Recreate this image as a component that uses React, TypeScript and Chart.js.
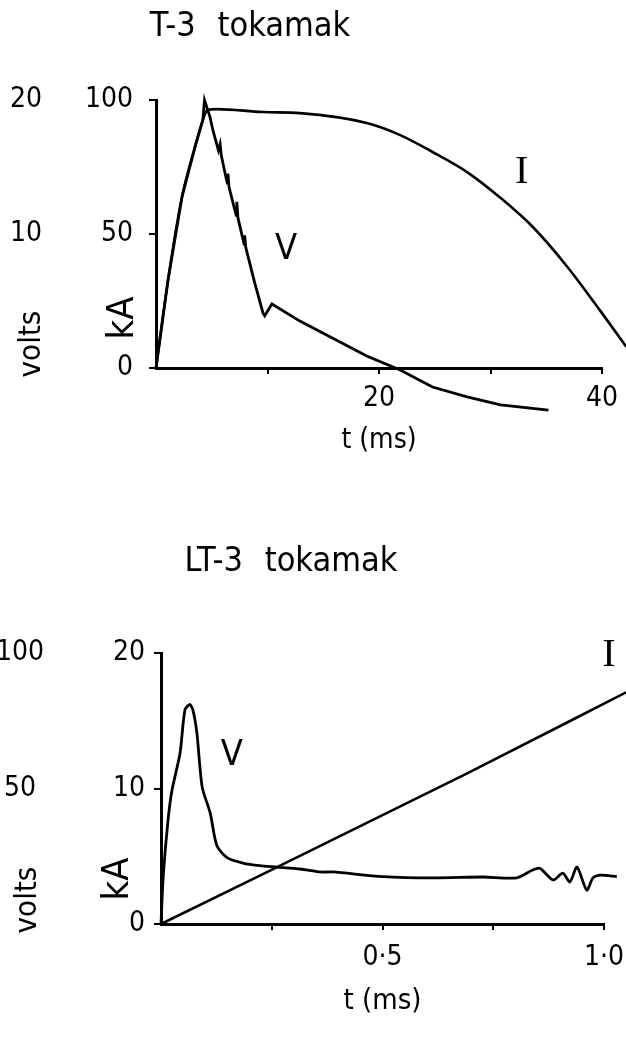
import React, { useEffect, useRef } from 'react';
import { Chart, registerables } from 'chart.js';

Chart.register(...registerables);

// ---------- T-3 tokamak (top panel) ----------
const t3CurrentTime = [0, 1.08, 2.33, 3.5, 4.2, 4.6, 5.47, 9.6, 12.9, 18.9, 21.9, 24.8, 27.9, 30.8, 33.8, 36.9, 39.8, 42.2];
const t3CurrentKA = [0, 32.8, 63.8, 82.5, 92.5, 96.3, 96.6, 95.5, 95.1, 91.4, 86.9, 80.6, 73.1, 63.8, 52.6, 37.7, 21.6, 7.8];
const t3VoltageTime = [0, 1.08, 2.33, 3.5, 4.2, 4.35, 4.84, 5.1, 5.6, 5.75, 5.85, 6.3, 6.4, 6.45, 6.55, 7.1, 7.2, 7.25, 7.35, 7.9, 7.95, 8.05, 8.8, 9.6, 9.75, 10.4, 12.9, 15.9, 18.9, 21.9, 24.8, 27.9, 30.9, 35.2];
const t3VoltageVolts = [0, 6.56, 12.76, 16.5, 18.5, 20, 18.74, 17.76, 16.24, 16.7, 15.9, 14.12, 13.8, 14.5, 13.5, 11.68, 11.4, 12.4, 11.2, 9.24, 9.9, 9.0, 6.52, 4.1, 3.9, 4.78, 3.5, 2.2, 0.9, -0.15, -1.42, -2.16, -2.76, -3.14];
const t3TimeTicks = [10, 20, 30, 40];
const t3TimeTickLabels = ['', '20', '', '40'];
const t3KATicks = [0, 50, 100];
const t3KATickLabels = ['0', '50', '100'];
const t3VoltTicks = [10, 20];
const t3VoltTickLabels = ['10', '20'];

// ---------- LT-3 tokamak (bottom panel) ----------
const lt3CurrentTime = [0, 0.69, 1.05];
const lt3CurrentKA = [0, 11.1, 17.1];
const lt3VoltageTime = [0, 0.005, 0.016, 0.025, 0.043, 0.054, 0.065, 0.072, 0.081, 0.093, 0.111, 0.126, 0.149, 0.185, 0.223, 0.261, 0.314, 0.359, 0.388, 0.5, 0.614, 0.727, 0.803, 0.84, 0.856, 0.885, 0.907, 0.923, 0.939, 0.961, 0.975, 0.991, 1.029];
const lt3VoltageVolts = [0, 17.5, 38.5, 49.5, 63, 79, 81, 79, 70.5, 50.5, 41, 29, 24.5, 22.5, 21.5, 21, 20.3, 19.2, 19.2, 17.5, 17, 17.35, 17, 20, 20.5, 16.25, 18.8, 15.5, 21, 12.5, 17, 18, 17.5];
const lt3TimeTicks = [0.25, 0.5, 0.75, 1.0];
const lt3TimeTickLabels = ['', '0·5', '', '1·0'];
const lt3KATicks = [0, 10, 20];
const lt3KATickLabels = ['0', '10', '20'];
const lt3VoltTicks = [50, 100];
const lt3VoltTickLabels = ['50', '100'];

const FONT_NUM = "'DejaVu Sans Condensed', 'DejaVu Sans', sans-serif";
const FONT_TXT = "'DejaVu Sans Condensed', 'DejaVu Sans', sans-serif";
const FONT_SERIF = "'Liberation Serif', 'DejaVu Serif', serif";
const TICK_SIZE = 28;

type TextItem = {
  text: string;
  font: string;
  x?: number;
  y?: number;
  at?: [number, number];
  axis?: string;
  rotate?: boolean;
  wordSpacing?: string;
};

const panelTextPlugin = {
  id: 'panelText',
  afterDraw(chart: any, _args: any, opts: any) {
    const ctx: CanvasRenderingContext2D = chart.ctx;
    const items: TextItem[] = opts.items || [];
    for (const item of items) {
      ctx.save();
      ctx.fillStyle = '#000';
      ctx.font = item.font;
      ctx.textAlign = 'center';
      ctx.textBaseline = 'middle';
      if (item.wordSpacing) (ctx as any).wordSpacing = item.wordSpacing;
      let x = item.x ?? 0;
      let y = item.y ?? 0;
      if (item.at && item.axis) {
        x = chart.scales.x.getPixelForValue(item.at[0]);
        y = chart.scales[item.axis].getPixelForValue(item.at[1]);
      }
      ctx.translate(x, y);
      if (item.rotate) ctx.rotate(-Math.PI / 2);
      ctx.fillText(item.text, 0, 0);
      ctx.restore();
    }
  },
};

type PanelSpec = {
  top: number;
  height: number;
  tI: number[];
  kA: number[];
  tV: number[];
  volts: number[];
  xMax: number;
  xTicks: number[];
  xLabels: string[];
  kaMax: number;
  kaTicks: number[];
  kaLabels: string[];
  voltMax: number;
  voltTicks: number[];
  voltLabels: string[];
  padding: { left: number; right: number; top: number; bottom: number };
  voltWidth: number;
  kaWidth: number;
  kaPad: number;
  xHeight: number;
  xPad: number;
  xTitleSize: number;
  vTension: number;
  texts: TextItem[];
};

function Panel({ spec }: { spec: PanelSpec }) {
  const ref = useRef<HTMLCanvasElement>(null);
  useEffect(() => {
    const s = spec;
    const black = '#000';
    const chart = new Chart(ref.current as HTMLCanvasElement, {
      type: 'line',
      data: {
        datasets: [
          {
            label: 'I',
            data: s.tI.map((t, i) => ({ x: t, y: s.kA[i] })),
            yAxisID: 'kA',
            borderColor: black,
            borderWidth: 2.6,
            pointRadius: 0,
            cubicInterpolationMode: 'monotone',
            fill: false,
            clip: false as any,
          },
          {
            label: 'V',
            data: s.tV.map((t, i) => ({ x: t, y: s.volts[i] })),
            yAxisID: 'volts',
            borderColor: black,
            borderWidth: 2.8,
            pointRadius: 0,
            tension: s.vTension,
            fill: false,
            clip: false as any,
          },
        ],
      },
      options: {
        animation: false,
        responsive: false,
        devicePixelRatio: 1,
        layout: { padding: s.padding },
        plugins: {
          legend: { display: false },
          tooltip: { enabled: false },
          title: { display: false },
          panelText: { items: s.texts },
        } as any,
        scales: {
          x: {
            type: 'linear',
            min: 0,
            max: s.xMax,
            position: 'bottom',
            afterBuildTicks: (scale: any) => {
              scale.ticks = s.xTicks.map((v) => ({ value: v }));
            },
            afterFit: (scale: any) => {
              scale.height = s.xHeight;
              scale.paddingLeft = 0;
              scale.paddingRight = 0;
            },
            ticks: {
              autoSkip: false,
              maxRotation: 0,
              padding: s.xPad,
              color: black,
              font: { family: FONT_NUM, size: TICK_SIZE },
              callback: (_v: any, i: number) => s.xLabels[i],
            },
            grid: { display: true, drawOnChartArea: false, drawTicks: true, tickLength: 6, color: black, lineWidth: 2 },
            border: { display: true, color: black, width: 3 },
            title: {
              display: true,
              text: 't (ms)',
              color: black,
              font: { family: FONT_TXT, size: s.xTitleSize },
              padding: { top: 0, bottom: 0 },
            },
          },
          kA: {
            type: 'linear',
            position: 'left',
            weight: 0,
            min: 0,
            max: s.kaMax,
            afterBuildTicks: (scale: any) => {
              scale.ticks = s.kaTicks.map((v) => ({ value: v }));
            },
            afterFit: (scale: any) => {
              scale.width = s.kaWidth;
            },
            ticks: {
              autoSkip: false,
              padding: s.kaPad,
              color: black,
              font: { family: FONT_NUM, size: TICK_SIZE },
              callback: (_v: any, i: number) => s.kaLabels[i],
            },
            grid: { display: true, drawOnChartArea: false, drawTicks: true, tickLength: 7, color: black, lineWidth: 2 },
            border: { display: true, color: black, width: 3 },
          },
          volts: {
            type: 'linear',
            position: 'left',
            weight: 1,
            min: 0,
            max: s.voltMax,
            afterBuildTicks: (scale: any) => {
              scale.ticks = s.voltTicks.map((v) => ({ value: v }));
            },
            afterFit: (scale: any) => {
              scale.width = s.voltWidth;
            },
            ticks: {
              autoSkip: false,
              padding: 0,
              crossAlign: 'center',
              color: black,
              font: { family: FONT_NUM, size: TICK_SIZE },
              callback: (_v: any, i: number) => s.voltLabels[i],
            },
            grid: { display: false, drawOnChartArea: false, drawTicks: false, tickLength: 0 },
            border: { display: false },
          },
        },
      } as any,
      plugins: [panelTextPlugin as any],
    });
    return () => chart.destroy();
  }, []);
  return (
    <canvas
      ref={ref}
      width={626}
      height={spec.height}
      style={{ position: 'absolute', left: 0, top: spec.top, width: 626, height: spec.height, display: 'block' }}
    />
  );
}

const topSpec: PanelSpec = {
  top: 0,
  height: 470,
  tI: t3CurrentTime,
  kA: t3CurrentKA,
  tV: t3VoltageTime,
  volts: t3VoltageVolts,
  xMax: 40,
  xTicks: t3TimeTicks,
  xLabels: t3TimeTickLabels,
  kaMax: 100,
  kaTicks: t3KATicks,
  kaLabels: t3KATickLabels,
  voltMax: 20,
  voltTicks: t3VoltTicks,
  voltLabels: t3VoltTickLabels,
  padding: { left: 0, right: 24, top: 100, bottom: 12 },
  voltWidth: 42,
  kaWidth: 114,
  kaPad: 16,
  xHeight: 90,
  xPad: 8,
  xTitleSize: 28,
  vTension: 0,
  texts: [
    { text: 'T-3 tokamak', font: `34px ${FONT_TXT}`, x: 250, y: 27, wordSpacing: '12px' },
    { text: 'volts', font: `31px ${FONT_TXT}`, x: 32, y: 344, rotate: true },
    { text: 'kA', font: `38px ${FONT_TXT}`, x: 123, y: 318, rotate: true },
    { text: 'V', font: `36px ${FONT_NUM}`, at: [11.66, 8.8], axis: 'volts' },
    { text: 'I', font: `40px ${FONT_SERIF}`, at: [32.8, 72.8], axis: 'kA' },
  ],
};

const bottomSpec: PanelSpec = {
  top: 520,
  height: 519,
  tI: lt3CurrentTime,
  kA: lt3CurrentKA,
  tV: lt3VoltageTime,
  volts: lt3VoltageVolts,
  xMax: 1.0,
  xTicks: lt3TimeTicks,
  xLabels: lt3TimeTickLabels,
  kaMax: 20,
  kaTicks: lt3KATicks,
  kaLabels: lt3KATickLabels,
  voltMax: 100,
  voltTicks: lt3VoltTicks,
  voltLabels: lt3VoltTickLabels,
  padding: { left: 0, right: 22, top: 133, bottom: 20 },
  voltWidth: 44,
  kaWidth: 117,
  kaPad: 9,
  xHeight: 95,
  xPad: 11,
  xTitleSize: 29,
  vTension: 0.25,
  texts: [
    { text: 'LT-3 tokamak', font: `34px ${FONT_TXT}`, x: 291, y: 42, wordSpacing: '12px' },
    { text: 'volts', font: `31px ${FONT_TXT}`, x: 28, y: 380, rotate: true },
    { text: 'kA', font: `38px ${FONT_TXT}`, x: 118, y: 359, rotate: true },
    { text: 'V', font: `36px ${FONT_NUM}`, at: [0.16, 62], axis: 'volts' },
    { text: 'I', font: `40px ${FONT_SERIF}`, at: [1.011, 19.85], axis: 'kA' },
  ],
};

export default function App() {
  return (
    <div style={{ position: 'absolute', left: 0, top: 0, width: 626, height: 1039, background: '#fff' }}>
      <Panel spec={topSpec} />
      <Panel spec={bottomSpec} />
    </div>
  );
}
